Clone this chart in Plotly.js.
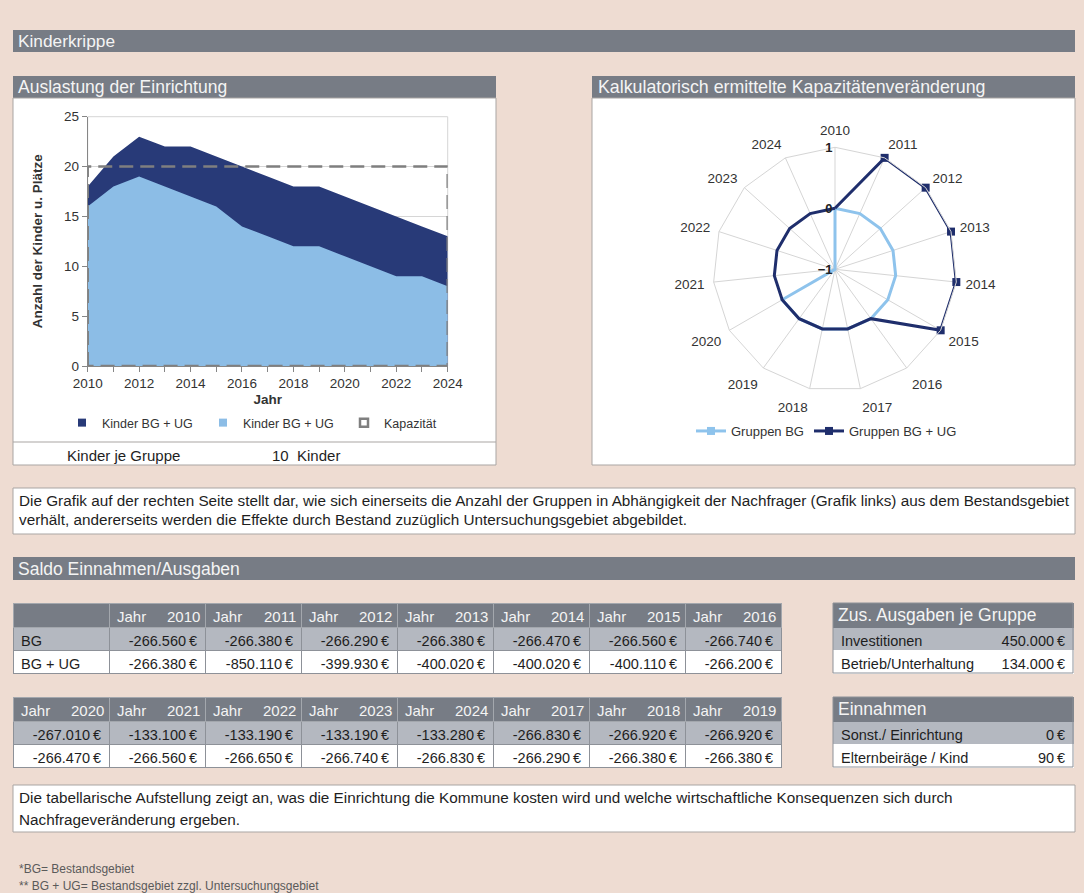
<!DOCTYPE html>
<html>
<head>
<meta charset="utf-8">
<script src="https://cdn.plot.ly/plotly-3.0.1.min.js"></script>
<style>
  html, body { margin: 0; padding: 0; background: #eedcd2; }
  #fig { width: 1084px; height: 893px; }
</style>
</head>
<body>
<div id="fig"></div>
<script>
// ---- Auslastung der Einrichtung ----
const kidYears   = [2010, 2011, 2012, 2013, 2014, 2015, 2016, 2017, 2018, 2019, 2020, 2021, 2022, 2023, 2024];
const kidsBGUG   = [18, 21, 23, 22, 22, 21, 20, 19, 18, 18, 17, 16, 15, 14, 13];
const kidsBG     = [16, 18, 19, 18, 17, 16, 14, 13, 12, 12, 11, 10, 9, 9, 8];
const capacity   = [20, 20, 20, 20, 20, 20, 20, 20, 20, 20, 20, 20, 20, 20, 20];
const kidsPerGroup = 10;

// ---- Kapazitätenveränderung (Gruppen) ----
const radarYears = ['2010', '2011', '2012', '2013', '2014', '2015', '2016', '2017',
                    '2018', '2019', '2020', '2021', '2022', '2023', '2024'];
const groupsBG   = [0, 0, 0, 0, 0, 0, 0, 0, 0, 0, 0, -1, -1, -1, -1];
const groupsBGUG = [0, 1, 1, 1, 1, 1, 0, 0, 0, 0, 0, 0, 0, 0, 0];

// ---- Saldo Einnahmen/Ausgaben ----
const saldoYears1 = [2010, 2011, 2012, 2013, 2014, 2015, 2016];
const saldoBG1    = [-266560, -266380, -266290, -266380, -266470, -266560, -266740];
const saldoBGUG1  = [-266380, -850110, -399930, -400020, -400020, -400110, -266200];
const saldoYears2 = [2020, 2021, 2022, 2023, 2024, 2017, 2018, 2019];
const saldoBG2    = [-267010, -133100, -133190, -133190, -133280, -266830, -266920, -266920];
const saldoBGUG2  = [-266470, -266560, -266650, -266740, -266830, -266290, -266380, -266380];
const rowLabels   = ['BG', 'BG + UG'];

const costLabels   = ['Investitionen', 'Betrieb/Unterhaltung'];
const costValues   = [450000, 134000];
const incomeLabels = ['Sonst./ Einrichtung', 'Elternbeiräge / Kind'];
const incomeValues = [0, 90];

// ---- styling ----
const FONT = 'Liberation Sans, Arial, sans-serif';
const W = 1084, H = 893;
const fx = x => x / W;
const fy = y => 1 - y / H;
const PAGE = '#eedcd2';
const HEAD = '#777c85';
const ROWG = '#b4b8c0';
const DARK = '#283a78';
const LIGHT = '#8cbde6';
const CAP = '#7f7f7f';
const RDARK = '#1f2e6c';
const RLIGHT = '#8ec3ec';
const TXT = '#1e1e1e';
const HTXT = '#f4f4f4';

function euro(v) {
  const s = Math.abs(v).toString().replace(/\B(?=(\d{3})+(?!\d))/g, '.');
  return (v < 0 ? '-' : '') + s + '\u2009€';
}

function box(x0, y0, x1, y1, fill, line, layer) {
  return {
    type: 'rect', xref: 'paper', yref: 'paper',
    x0: fx(x0), x1: fx(x1), y0: fy(y1), y1: fy(y0),
    fillcolor: fill, line: { color: line || fill, width: line ? 1 : 0 },
    layer: layer || 'below'
  };
}

function label(x, y, text, size, color, extra) {
  return Object.assign({
    xref: 'paper', yref: 'paper', x: fx(x), y: fy(y), text: text,
    showarrow: false, xanchor: 'left', yanchor: 'middle',
    font: { family: FONT, size: size, color: color }
  }, extra || {});
}

// table geometry
const TBL_L = 13, COL_W = 96;
const T1_TOP = 603, T2_TOP = 697, HEAD_H = 24, ROW_H = 23;

// ---- traces ----
const traces = [];

traces.push({
  type: 'scatter', x: kidYears, y: kidsBGUG, mode: 'none', fill: 'tozeroy',
  fillcolor: DARK, showlegend: false, hoverinfo: 'skip'
});
traces.push({
  type: 'scatter', x: kidYears, y: kidsBG, mode: 'none', fill: 'tozeroy',
  fillcolor: LIGHT, showlegend: false, hoverinfo: 'skip'
});
// capacity drawn as a closed dashed outline
const capX = [kidYears[0]].concat(kidYears, [kidYears[kidYears.length - 1], kidYears[0]]);
const capY = [0].concat(capacity, [0, 0]);
traces.push({
  type: 'scatter', x: capX, y: capY, mode: 'lines', name: 'Kapazität',
  line: { color: CAP, width: 2.5, dash: '14px,7px' }, showlegend: false, hoverinfo: 'skip'
});
// compact legend keys for the area chart
traces.push({
  type: 'scatter', x: [null], y: [null], mode: 'markers', name: 'Kinder BG + UG',
  marker: { symbol: 'square', size: 8, color: DARK }, legend: 'legend'
});
traces.push({
  type: 'scatter', x: [null], y: [null], mode: 'markers', name: 'Kinder BG + UG',
  marker: { symbol: 'square', size: 8, color: LIGHT }, legend: 'legend'
});
traces.push({
  type: 'scatter', x: [null], y: [null], mode: 'markers', name: 'Kapazität',
  marker: { symbol: 'square-open', size: 8, color: CAP, line: { width: 2.5, color: CAP } }, legend: 'legend'
});

// radar
traces.push({
  type: 'scatterpolar', name: 'Gruppen BG',
  r: groupsBG.concat([groupsBG[0]]), theta: radarYears.concat([radarYears[0]]),
  mode: 'lines+markers', line: { color: RLIGHT, width: 3 },
  marker: { symbol: 'square', size: 8, color: RLIGHT }, legend: 'legend2'
});
traces.push({
  type: 'scatterpolar', name: 'Gruppen BG + UG',
  r: groupsBGUG.concat([groupsBGUG[0]]), theta: radarYears.concat([radarYears[0]]),
  mode: 'lines+markers', line: { color: RDARK, width: 3 },
  marker: { symbol: 'square', size: 8, color: RDARK }, legend: 'legend2'
});

// saldo tables
function saldoTable(top, nCols, headerVals, colVals, align) {
  return {
    type: 'table',
    domain: { x: [fx(TBL_L), fx(TBL_L + nCols * COL_W)], y: [fy(top + HEAD_H + 2 * ROW_H + 6), fy(top)] },
    columnwidth: new Array(nCols).fill(1),
    header: {
      values: headerVals, align: 'left', height: HEAD_H,
      fill: { color: HEAD }, line: { color: '#a3a7ad', width: 1 },
      font: { family: FONT, size: 15, color: HTXT }
    },
    cells: {
      values: colVals, align: align, height: ROW_H,
      fill: { color: [[ROWG, '#ffffff']] }, line: { color: '#8d9198', width: 1 },
      font: { family: FONT, size: 14.5, color: TXT }
    }
  };
}

traces.push(saldoTable(
  T1_TOP, 8,
  [''].concat(saldoYears1.map(() => 'Jahr')),
  [rowLabels].concat(saldoYears1.map((y, i) => [euro(saldoBG1[i]), euro(saldoBGUG1[i])])),
  ['left', 'right']
));
traces.push(saldoTable(
  T2_TOP, 8,
  saldoYears2.map(() => 'Jahr'),
  saldoYears2.map((y, i) => [euro(saldoBG2[i]), euro(saldoBGUG2[i])]),
  ['right']
));

// side tables
const SIDE_L = 833, SIDE_R = 1073;
function sideTable(top, labels, values) {
  return {
    type: 'table',
    domain: { x: [fx(SIDE_L), fx(SIDE_R)], y: [fy(top + HEAD_H + 2 * ROW_H + 6), fy(top)] },
    columnwidth: [165, 75],
    header: {
      values: ['', ''], height: HEAD_H,
      fill: { color: HEAD }, line: { color: HEAD, width: 1 },
      font: { family: FONT, size: 14, color: HTXT }
    },
    cells: {
      values: [labels, values.map(euro)], align: ['left', 'right'], height: ROW_H,
      fill: { color: [[ROWG, '#ffffff']] }, line: { color: [[ROWG, '#ffffff']], width: 1 },
      font: { family: FONT, size: 14.5, color: TXT }
    }
  };
}
traces.push(sideTable(T1_TOP, costLabels, costValues));
traces.push(sideTable(T2_TOP, incomeLabels, incomeValues));

// ---- shapes ----
const shapes = [
  box(13, 30, 1075, 52, HEAD),
  box(13, 76, 496, 98, HEAD),
  box(13, 98, 496, 465, '#ffffff', '#a9a5a3'),
  { type: 'line', xref: 'paper', yref: 'paper', x0: fx(13), x1: fx(496), y0: fy(442), y1: fy(442),
    line: { color: '#a9a5a3', width: 1 }, layer: 'below' },
  { type: 'rect', xref: 'x domain', yref: 'y domain', x0: 0, x1: 1, y0: 0, y1: 1,
    line: { color: '#d6d6d6', width: 1 }, layer: 'below' },
  box(592, 76, 1075, 98, HEAD),
  box(592, 98, 1075, 465, '#ffffff', '#a9a5a3'),
  box(13, 488, 1075, 534, '#ffffff', '#a9a5a3'),
  box(13, 557, 1075, 580, HEAD),
  box(13, 785, 1075, 832, '#ffffff', '#a9a5a3'),
  box(SIDE_L, T1_TOP, SIDE_R, T1_TOP + HEAD_H + 2 * ROW_H, 'rgba(0,0,0,0)', '#8d9198', 'above'),
  box(SIDE_L, T2_TOP, SIDE_R, T2_TOP + HEAD_H + 2 * ROW_H, 'rgba(0,0,0,0)', '#8d9198', 'above')
];

// ---- annotations ----
const annotations = [
  label(16, 41, 'Kinderkrippe', 17.3, HTXT),
  label(16, 87, 'Auslastung der Einrichtung', 17.5, HTXT),
  label(596, 87, 'Kalkulatorisch ermittelte Kapazitätenveränderung', 17.8, HTXT),
  label(65, 455, 'Kinder je Gruppe', 15, TXT),
  label(270, 455, kidsPerGroup + '\u00a0\u00a0Kinder', 15, TXT),
  label(17, 500, 'Die Grafik auf der rechten Seite stellt dar, wie sich einerseits die Anzahl der Gruppen in Abhängigkeit der Nachfrager (Grafik links) aus dem Bestandsgebiet', 15.3, TXT),
  label(17, 519, 'verhält, andererseits werden die Effekte durch Bestand zuzüglich Untersuchungsgebiet abgebildet.', 15.3, TXT),
  label(16, 568.5, 'Saldo Einnahmen/Ausgaben', 17.5, HTXT),
  label(836, T1_TOP + HEAD_H / 2, 'Zus. Ausgaben je Gruppe', 17.5, HTXT),
  label(836, T2_TOP + HEAD_H / 2, 'Einnahmen', 17.5, HTXT),
  label(17, 797, 'Die tabellarische Aufstellung zeigt an, was die Einrichtung die Kommune kosten wird und welche wirtschaftliche Konsequenzen sich durch', 15.3, TXT),
  label(17, 819, 'Nachfrageveränderung ergeben.', 15.3, TXT),
  label(17, 869, '*BG= Bestandsgebiet', 12, '#5a5a5a'),
  label(17, 886, '** BG + UG= Bestandsgebiet zzgl. Untersuchungsgebiet', 12, '#5a5a5a')
];
// year numbers, right-aligned in the header cells
saldoYears1.forEach((yr, i) => {
  annotations.push(label(TBL_L + (i + 2) * COL_W - 3, T1_TOP + HEAD_H / 2 + 1.5, String(yr), 15, HTXT, { xanchor: 'right' }));
});
saldoYears2.forEach((yr, i) => {
  annotations.push(label(TBL_L + (i + 1) * COL_W - 3, T2_TOP + HEAD_H / 2 + 1.5, String(yr), 15, HTXT, { xanchor: 'right' }));
});

const layout = {
  width: W, height: H,
  margin: { l: 0, r: 0, t: 0, b: 0 },
  paper_bgcolor: PAGE, plot_bgcolor: 'rgba(0,0,0,0)',
  font: { family: FONT, color: '#333333' },
  xaxis: {
    domain: [fx(87.7), fx(447.7)], range: [2010, 2024],
    tick0: 2010, dtick: 2, ticks: 'outside', ticklen: 5, tickcolor: '#868686',
    minor: { dtick: 1, ticks: 'outside', ticklen: 5, tickcolor: '#868686' },
    showline: true, linecolor: '#868686', showgrid: false, zeroline: false,
    tickfont: { size: 13.5, color: '#333333' },
    title: { text: 'Jahr', font: { size: 13.5, weight: 'bold', color: '#333333' }, standoff: 4 }
  },
  yaxis: {
    domain: [fy(366), fy(116.7)], range: [0, 25], dtick: 5,
    ticks: 'outside', ticklen: 5, tickcolor: '#868686',
    showline: true, linecolor: '#868686', gridcolor: '#d6d6d6', zeroline: false,
    tickfont: { size: 13.5, color: '#333333' },
    title: { text: 'Anzahl der Kinder u. Plätze', font: { size: 13.5, weight: 'bold', color: '#333333' }, standoff: 18 }
  },
  polar: {
    domain: { x: [fx(713), fx(957)], y: [fy(391.3), fy(147.3)] },
    bgcolor: 'rgba(0,0,0,0)',
    gridshape: 'linear',
    radialaxis: {
      range: [-1, 1], tickvals: [-1, 0, 1], angle: 90, side: 'counterclockwise', tickangle: 90,
      showline: false, ticks: '', gridcolor: '#d5d5d5',
      tickfont: { size: 13, weight: 'bold', color: '#222222' }
    },
    angularaxis: {
      type: 'category', categoryarray: radarYears, rotation: 90, direction: 'clockwise',
      gridcolor: '#d5d5d5', showline: true, linecolor: '#d5d5d5',
      ticks: 'outside', ticklen: 6, tickcolor: 'rgba(0,0,0,0)',
      tickfont: { size: 13.5, color: '#333333' }
    }
  },
  legend: {
    x: fx(62), y: fy(423), xanchor: 'left', yanchor: 'middle', orientation: 'h',
    entrywidth: 96, bgcolor: 'rgba(0,0,0,0)',
    font: { family: FONT, size: 12.5, color: '#333333' }
  },
  legend2: {
    x: fx(691), y: fy(431), xanchor: 'left', yanchor: 'middle', orientation: 'h',
    bgcolor: 'rgba(0,0,0,0)',
    font: { family: FONT, size: 13, color: '#333333' }
  },
  shapes: shapes,
  annotations: annotations
};

Plotly.newPlot('fig', traces, layout, { displayModeBar: false, staticPlot: true });
</script>
</body>
</html>
